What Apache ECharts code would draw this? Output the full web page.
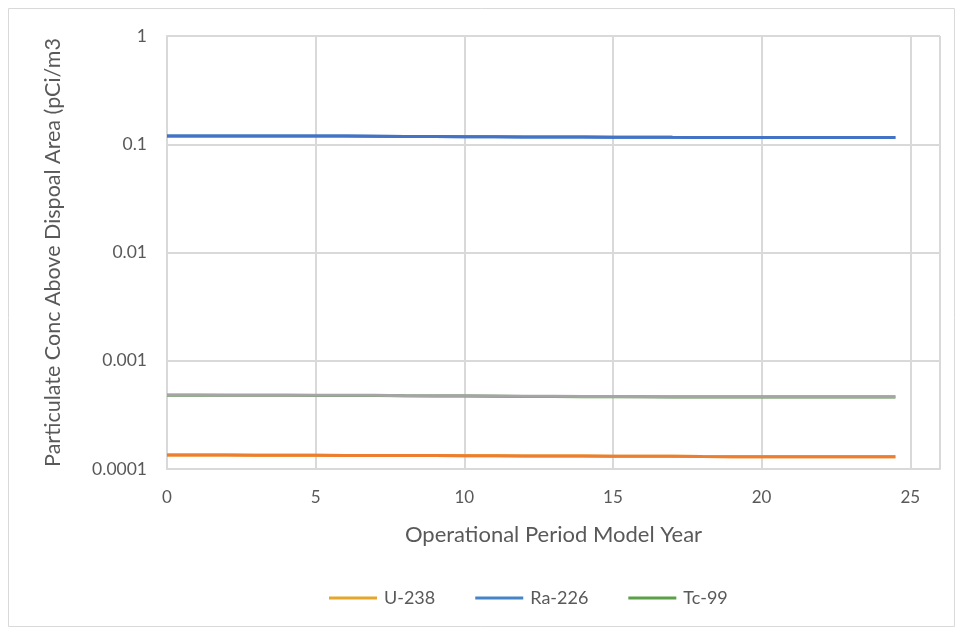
<!DOCTYPE html>
<html>
<head>
<meta charset="utf-8">
<script src="https://cdn.jsdelivr.net/npm/echarts@6/dist/echarts.min.js"></script>
<style>
  html, body { margin: 0; padding: 0; background: #fff; }
  #chart { width: 963px; height: 635px; }
</style>
</head>
<body>
<div id="chart"></div>
<script>
// Model years for the operational period
const years = [0, 1, 2, 3, 4, 5, 6, 7, 8, 9, 10, 11, 12, 13, 14, 15, 16, 17, 18, 19, 20, 21, 22, 23, 24, 24.5];

// Particulate concentrations (pCi/m3), upper group
const raHigh = [0.1190, 0.1190, 0.1190, 0.1190, 0.1190, 0.1189, 0.1189, 0.1188, 0.1180, 0.1178, 0.1176, 0.1174, 0.1168, 0.1166, 0.1164, 0.1162, 0.1160, 0.1158, 0.1157, 0.1156, 0.1156, 0.1155, 0.1155, 0.1155, 0.1155, 0.1155];
// middle group
const tcMid = [0.000482, 0.000482, 0.000481, 0.000481, 0.000481, 0.000480, 0.000480, 0.000480, 0.000476, 0.000475, 0.000474, 0.000473, 0.000470, 0.000469, 0.000468, 0.000467, 0.000466, 0.000465, 0.000465, 0.000464, 0.000464, 0.000464, 0.000464, 0.000464, 0.000464, 0.000464];
// lower group
const uLow = [0.0001345, 0.0001345, 0.0001344, 0.0001343, 0.0001342, 0.0001340, 0.0001336, 0.0001334, 0.0001332, 0.0001330, 0.0001328, 0.0001326, 0.0001320, 0.0001318, 0.0001316, 0.0001314, 0.0001312, 0.0001310, 0.0001302, 0.0001300, 0.0001299, 0.0001298, 0.0001297, 0.0001297, 0.0001297, 0.0001297];

const legendNames = ['U-238', 'Ra-226', 'Tc-99'];
const yTicks = [0.0001, 0.001, 0.01, 0.1, 1];
const xTicks = [0, 5, 10, 15, 20, 25];

const pairs = arr => years.map((x, i) => [x, arr[i]]);
const font = 'Lato, "Open Sans", sans-serif';
const textColor = '#595959';

function lineSeries(name, color, data, z) {
  return {
    name: name,
    type: 'line',
    data: pairs(data),
    showSymbol: false,
    symbol: 'none',
    z: z,
    lineStyle: { color: color, width: 3 },
    itemStyle: { color: color },
    emphasis: { disabled: true },
    animation: false
  };
}

const chart = echarts.init(document.getElementById('chart'), null, { renderer: 'canvas' });
chart.setOption({
  backgroundColor: '#ffffff',
  animation: false,
  textStyle: { fontFamily: font },
  graphic: [{
    type: 'rect',
    shape: { x: 8.5, y: 8.5, width: 946, height: 618 },
    style: { fill: 'none', stroke: '#d9d9d9', lineWidth: 1 },
    silent: true
  }],
  grid: { left: 167, right: 23, top: 36, bottom: 166 },
  legend: {
    data: legendNames,
    bottom: 23,
    left: 324,
    icon: 'rect',
    itemWidth: 48,
    itemHeight: 3,
    itemGap: 40,
    textStyle: { color: textColor, fontSize: 18, fontFamily: font, padding: [0, 0, 0, 2] },
    selectedMode: false
  },
  xAxis: {
    type: 'value',
    min: 0,
    max: 26,
    interval: 5,
    name: 'Operational Period Model Year',
    nameLocation: 'middle',
    nameGap: 55,
    nameTextStyle: { color: textColor, fontSize: 22, fontFamily: font },
    axisLine: { show: true, lineStyle: { color: '#d9d9d9', width: 2 } },
    axisTick: { show: false },
    axisLabel: {
      color: textColor, fontSize: 17, margin: 20, fontFamily: font,
      showMaxLabel: false,
      formatter: v => (xTicks.indexOf(v) >= 0 ? String(v) : '')
    },
    splitLine: { show: true, lineStyle: { color: '#d9d9d9', width: 2 } }
  },
  yAxis: {
    type: 'log',
    logBase: 10,
    min: yTicks[0],
    max: yTicks[yTicks.length - 1],
    name: 'Particulate Conc Above Dispoal Area (pCi/m3',
    nameLocation: 'middle',
    nameGap: 103,
    nameRotate: 90,
    nameTextStyle: { color: textColor, fontSize: 21.5, fontFamily: font },
    axisLine: { show: true, lineStyle: { color: '#d9d9d9', width: 2 } },
    axisTick: { show: false },
    axisLabel: {
      color: textColor, fontSize: 17.5, margin: 20, fontFamily: font,
      formatter: v => String(+Number(v).toPrecision(1))
    },
    splitLine: { show: true, lineStyle: { color: '#d9d9d9', width: 2 } }
  },
  series: [
    lineSeries('U-238', '#e5a72a', uLow, 2),
    lineSeries('Ra-226', '#4585c5', raHigh, 2),
    lineSeries('Tc-99', '#5b9f48', tcMid.map(v => v * 0.996), 2),
    lineSeries('Ra-226 (2)', '#4472c4', raHigh, 3),
    lineSeries('Tc-99 (2)', '#a5a5a5', tcMid, 3),
    lineSeries('U-238 (2)', '#ed7d31', uLow, 3)
  ]
});
</script>
</body>
</html>
